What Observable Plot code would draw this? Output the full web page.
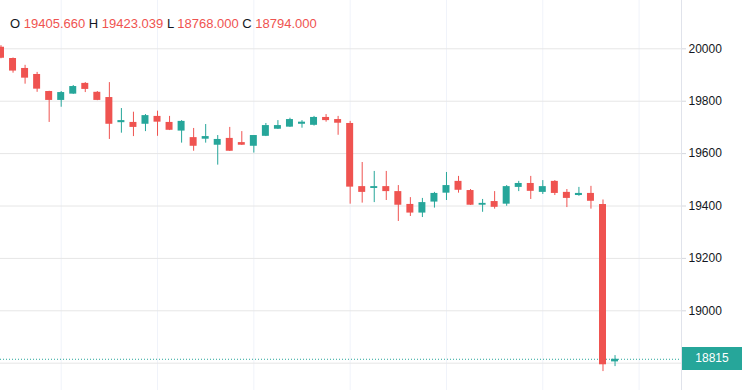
<!DOCTYPE html>
<html>
<head>
<meta charset="utf-8">
<script src="https://cdn.jsdelivr.net/npm/d3@7"></script>
<script src="https://cdn.jsdelivr.net/npm/@observablehq/plot@0.6"></script>
<style>
  html, body { margin: 0; padding: 0; background: #fff; }
  #wrap { position: relative; width: 742px; height: 390px; overflow: hidden; font-family: "Liberation Sans", Arial, sans-serif; }
  #legend { position: absolute; left: 10px; top: 16px; font-size: 13px; line-height: 15px; color: #131722; white-space: pre; }
  #legend .v { color: #ef5350; }
  #price { position: absolute; left: 682px; top: 347px; width: 60px; height: 23px; line-height: 23px; text-align: center; color: #fff; font-size: 12px; background: #26a69a; }
</style>
</head>
<body>
<div id="wrap">
  <div id="chart"></div>
  <div id="legend"></div>
  <div id="price"></div>
</div>
<script>
// ---- data ----
const open  = [20006,19963,19925,19902,19837,19803,19827,19868,19834,19814,19718,19719,19712,19742,19719,19686,19661,19655,19632,19658,19642,19628,19666,19693,19701,19712,19708,19738,19730,19715,19474,19467,19474,19455,19406,19373,19415,19449,19494,19459,19403,19417,19407,19471,19486,19452,19494,19452,19440,19448,19405.660,18805];
const high  = [20012,19965,19937,19910,19838,19837,19860,19871,19837,19871,19772,19758,19749,19762,19742,19726,19696,19711,19669,19700,19684,19669,19715,19726,19735,19726,19742,19749,19742,19723,19566,19532,19532,19478,19432,19429,19452,19528,19513,19463,19425,19455,19478,19494,19513,19497,19497,19463,19471,19475,19423.039,18829];
const low   = [19962,19907,19865,19834,19719,19777,19826,19833,19802,19654,19678,19665,19684,19666,19688,19640,19609,19640,19556,19608,19631,19602,19665,19692,19700,19697,19705,19720,19670,19407,19411,19413,19421,19341,19360,19356,19392,19421,19449,19402,19376,19388,19399,19455,19425,19444,19440,19394,19437,19388,18768.000,18787];
const close = [19964,19915,19888,19846,19803,19833,19856,19845,19803,19712,19726,19700,19745,19720,19689,19723,19628,19665,19654,19609,19632,19669,19707,19707,19730,19720,19738,19726,19716,19472,19452,19474,19455,19403,19373,19413,19448,19478,19460,19403,19410,19395,19474,19486,19456,19474,19448,19429,19448,19418,18794.000,18815];
const yTicks = [19000, 19200, 19400, 19600, 19800, 20000];
const yGrid = [18800, 19000, 19200, 19400, 19600, 19800, 20000];
const xGrid = [5, 13, 21, 29, 37, 45, 53];
const legendBar = {O: "19405.660", H: "19423.039", L: "18768.000", C: "18794.000"};
const lastPrice = 18815;

const UP = "#26a69a", DOWN = "#ef5350";
const bars = open.map((o, i) => ({i, o, h: high[i], l: low[i], c: close[i], col: close[i] >= o ? UP : DOWN}));
const xMax = 56.52;

const chart = Plot.plot({
  width: 742, height: 390,
  marginLeft: 0, marginRight: 61, marginTop: 0, marginBottom: 0,
  x: {type: "linear", domain: [-0.0415, xMax], axis: null},
  y: {domain: [18695.8, 20184.4], axis: null},
  color: {type: "identity"},
  style: {background: "#fff", fontFamily: "'Liberation Sans', Arial, sans-serif", fontSize: "12px", color: "#131722", overflow: "visible"},
  marks: [
    Plot.ruleX(xGrid, {x: d => d, stroke: "#f0f3fa"}),
    Plot.ruleY(yGrid, {y: d => d, stroke: "#e6e6e6", x1: -0.0415, x2: xMax}),
    Plot.ruleY([lastPrice], {y: d => d, stroke: UP, strokeDasharray: "1,2", x1: -0.0415, x2: xMax}),
    Plot.ruleX(bars, {x: "i", y1: "l", y2: "h", stroke: "col", strokeWidth: 1}),
    Plot.rect(bars, {x1: d => d.i - 0.29, x2: d => d.i + 0.29, y1: "o", y2: "c", fill: "col"}),
    Plot.ruleX([xMax], {x: d => d, stroke: "#e0e3eb"}),
    Plot.axisY(yTicks, {anchor: "right", tickSize: 4, tickPadding: 3, stroke: "#d6d8de", fill: "#131722", fontSize: 12, tickFormat: d => String(d), label: null})
  ]
});
document.getElementById("chart").appendChild(chart);

document.getElementById("legend").innerHTML = Object.entries(legendBar)
  .map(([k, v]) => `${k} <span class="v">${v}</span>`).join(" ");
document.getElementById("price").textContent = String(lastPrice);
</script>
</body>
</html>
